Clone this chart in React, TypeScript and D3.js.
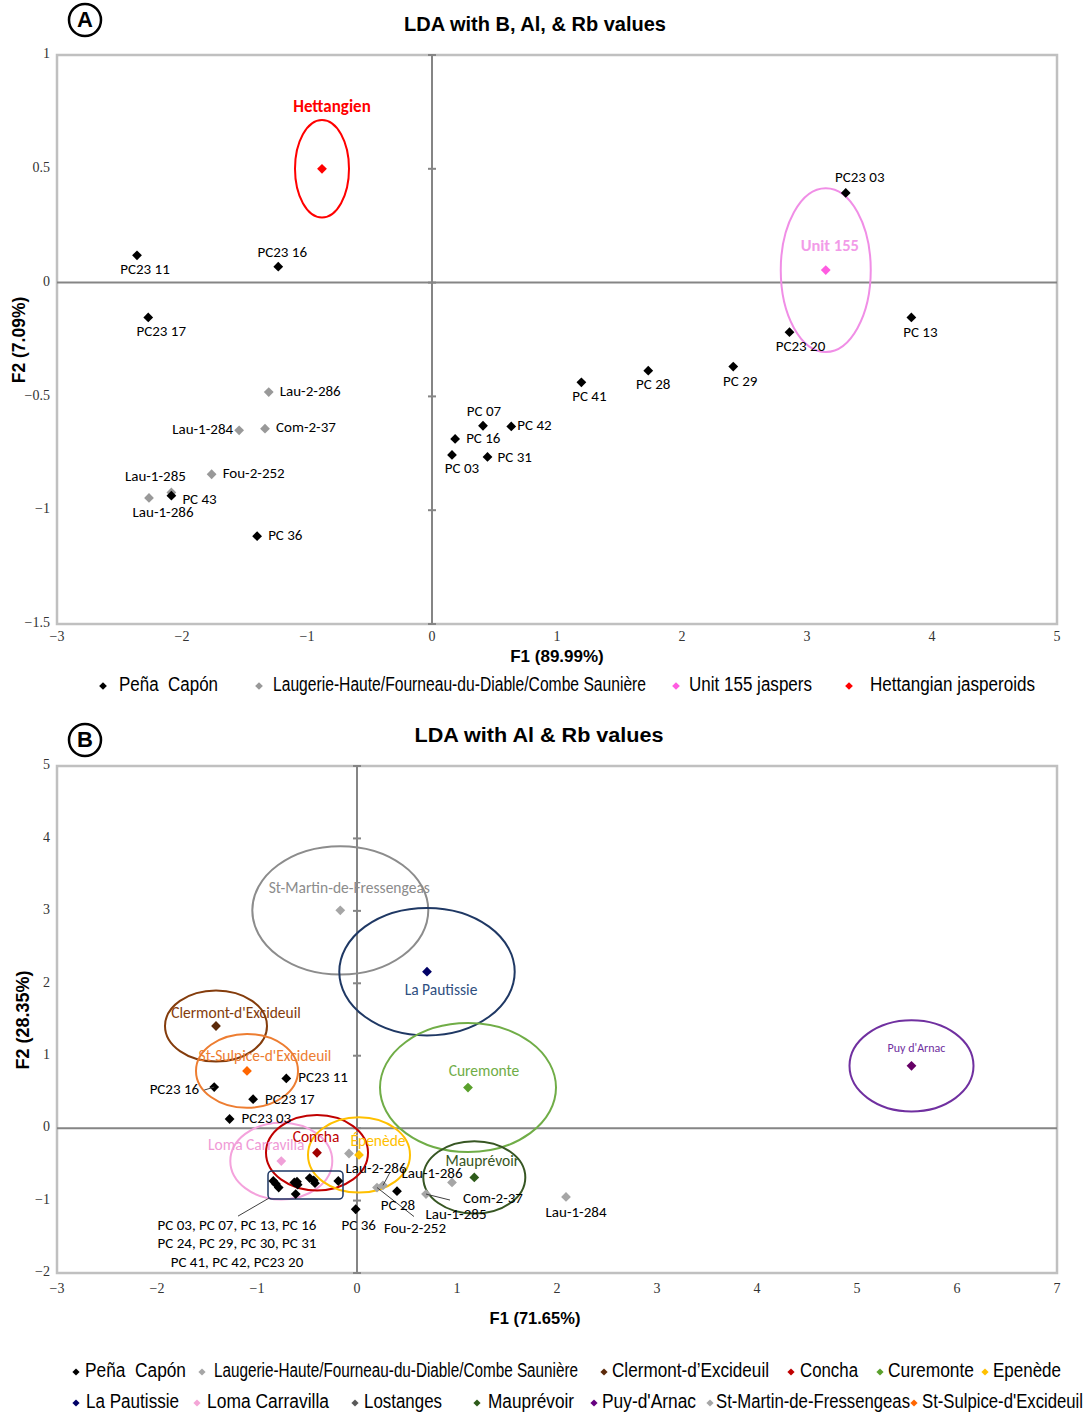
import React from 'react';
import * as d3 from 'd3';

const W = 1085;
const H = 1415;

// ---------- Panel A: LDA with B, Al & Rb ----------
const aXTicks = [-3, -2, -1, 0, 1, 2, 3, 4, 5];
const aYTicks = [-1.5, -1, -0.5, 0, 0.5, 1];

const aPenaCapon = [
  { name: 'PC23 11', x: -2.36, y: 0.12 },
  { name: 'PC23 16', x: -1.23, y: 0.07 },
  { name: 'PC23 17', x: -2.27, y: -0.153 },
  { name: 'PC23 03', x: 3.31, y: 0.394 },
  { name: 'PC23 20', x: 2.86, y: -0.218 },
  { name: 'PC 13', x: 3.835, y: -0.153 },
  { name: 'PC 41', x: 1.195, y: -0.438 },
  { name: 'PC 28', x: 1.73, y: -0.387 },
  { name: 'PC 29', x: 2.41, y: -0.369 },
  { name: 'PC 07', x: 0.408, y: -0.629 },
  { name: 'PC 42', x: 0.634, y: -0.632 },
  { name: 'PC 16', x: 0.185, y: -0.687 },
  { name: 'PC 03', x: 0.16, y: -0.757 },
  { name: 'PC 31', x: 0.444, y: -0.766 },
  { name: 'PC 43', x: -2.085, y: -0.936 },
  { name: 'PC 36', x: -1.399, y: -1.114 },
];

const aLaugerie = [
  { name: 'Lau-2-286', x: -1.306, y: -0.481 },
  { name: 'Lau-1-284', x: -1.543, y: -0.649 },
  { name: 'Com-2-37', x: -1.336, y: -0.642 },
  { name: 'Fou-2-252', x: -1.763, y: -0.842 },
  { name: 'Lau-1-285', x: -2.085, y: -0.922 },
  { name: 'Lau-1-286', x: -2.264, y: -0.946 },
];

const aUnit155 = [{ name: 'Unit 155', x: 3.15, y: 0.055, rx: 0.36, ry: 0.36 }];
const aHettangian = [{ name: 'Hettangien', x: -0.88, y: 0.5, rx: 0.216, ry: 0.214 }];

// label placement for panel A (pixel offsets from the point)
const aLabelPlace: Record<string, [number, number, string]> = {
  'PC23 11': [8, 15, 'middle'],
  'PC23 16': [4, -13, 'middle'],
  'PC23 17': [13, 15, 'middle'],
  'PC23 03': [14, -15, 'middle'],
  'PC23 20': [11, 15, 'middle'],
  'PC 13': [9, 16, 'middle'],
  'PC 41': [8, 15, 'middle'],
  'PC 28': [5, 15, 'middle'],
  'PC 29': [7, 16, 'middle'],
  'PC 07': [1, -13, 'middle'],
  'PC 42': [6, 0, 'start'],
  'PC 16': [11, 0, 'start'],
  'PC 03': [10, 15, 'middle'],
  'PC 31': [10, 1, 'start'],
  'PC 43': [11, 5, 'start'],
  'PC 36': [11, 0, 'start'],
  'Lau-2-286': [11, 0, 'start'],
  'Lau-1-284': [-6, 0, 'end'],
  'Com-2-37': [11, 0, 'start'],
  'Fou-2-252': [11, 0, 'start'],
  'Lau-1-285': [-16, -15, 'middle'],
  'Lau-1-286': [14, 16, 'middle'],
  'Unit 155': [4, -23, 'middle'],
  Hettangien: [10, -61, 'middle'],
};

const aLegend = [
  { label: 'Peña  Capón', color: '#000000' },
  { label: 'Laugerie-Haute/Fourneau-du-Diable/Combe Saunière', color: '#999999' },
  { label: 'Unit 155 jaspers', color: '#ff5ce1' },
  { label: 'Hettangian jasperoids', color: '#ff0000' },
];

// ---------- Panel B: LDA with Al & Rb ----------
const bXTicks = [-3, -2, -1, 0, 1, 2, 3, 4, 5, 6, 7];
const bYTicks = [-2, -1, 0, 1, 2, 3, 4, 5];

const bGroups = [
  { name: 'St-Martin-de-Fressengeas', x: -0.167, y: 3.007, rx: 0.88, ry: 0.886 },
  { name: 'La Pautissie', x: 0.7, y: 2.16, rx: 0.877, ry: 0.88 },
  { name: "Clermont-d'Excideuil", x: -1.41, y: 1.41, rx: 0.51, ry: 0.49 },
  { name: "St-Sulpice-d'Excideuil", x: -1.1, y: 0.79, rx: 0.51, ry: 0.51 },
  { name: 'Curemonte', x: 1.11, y: 0.56, rx: 0.88, ry: 0.89 },
  { name: "Puy d'Arnac", x: 5.545, y: 0.86, rx: 0.62, ry: 0.63 },
  { name: 'Loma Carravilla', x: -0.757, y: -0.454, rx: 0.51, ry: 0.53 },
  { name: 'Concha', x: -0.4, y: -0.34, rx: 0.51, ry: 0.52 },
  { name: 'Épenède', x: 0.02, y: -0.37, rx: 0.51, ry: 0.52 },
  { name: 'Mauprévoir', x: 1.173, y: -0.68, rx: 0.51, ry: 0.5 },
];

const bGroupStyle: Record<string, { ring: string; dot: string; text: string; dx: number; dy: number; fs: number }> = {
  'St-Martin-de-Fressengeas': { ring: '#8c8c8c', dot: '#a6a6a6', text: '#8c8c8c', dx: 9, dy: -21, fs: 15.5 },
  'La Pautissie': { ring: '#1f3864', dot: '#000066', text: '#2f4f7f', dx: 14, dy: 20, fs: 15.5 },
  "Clermont-d'Excideuil": { ring: '#843c0c', dot: '#5c2a0a', text: '#843c0c', dx: 20, dy: -12, fs: 15.5 },
  "St-Sulpice-d'Excideuil": { ring: '#ed7d31', dot: '#ff6600', text: '#ed7d31', dx: 18, dy: -14, fs: 15.5 },
  Curemonte: { ring: '#70ad47', dot: '#5aa02c', text: '#70ad47', dx: 16, dy: -15, fs: 15.5 },
  "Puy d'Arnac": { ring: '#7030a0', dot: '#660066', text: '#7030a0', dx: 5, dy: -17, fs: 12 },
  'Loma Carravilla': { ring: '#f4a2dc', dot: '#f0a0d8', text: '#f09ad6', dx: -25, dy: -15, fs: 15.5 },
  Concha: { ring: '#c00000', dot: '#a00000', text: '#c00000', dx: -1, dy: -14, fs: 15.5 },
  'Épenède': { ring: '#ffc000', dot: '#ffc000', text: '#ffc000', dx: 19, dy: -13, fs: 15.5 },
  'Mauprévoir': { ring: '#375623', dot: '#2e5b1a', text: '#375623', dx: 8, dy: -15, fs: 15.5 },
};

const bPenaLabelled = [
  { name: 'PC23 11', x: -0.707, y: 0.687 },
  { name: 'PC23 16', x: -1.428, y: 0.567 },
  { name: 'PC23 17', x: -1.039, y: 0.4 },
  { name: 'PC23 03', x: -1.274, y: 0.126 },
  { name: 'PC 28', x: 0.4, y: -0.87 },
  { name: 'PC 36', x: -0.013, y: -1.12 },
];

// PC 03, 07, 13, 16, 24, 29, 30, 31, 41, 42 and PC23 20
const bPenaCluster = [
  { x: -0.837, y: -0.73 },
  { x: -0.81, y: -0.77 },
  { x: -0.783, y: -0.82 },
  { x: -0.627, y: -0.75 },
  { x: -0.6, y: -0.74 },
  { x: -0.593, y: -0.78 },
  { x: -0.613, y: -0.91 },
  { x: -0.473, y: -0.69 },
  { x: -0.433, y: -0.72 },
  { x: -0.42, y: -0.76 },
  { x: -0.187, y: -0.73 },
];
const bClusterBox = { x0: -0.89, x1: -0.14, y0: -0.98, y1: -0.59 };
const bClusterText = [
  'PC 03, PC 07, PC 13, PC 16',
  'PC 24, PC 29, PC 30, PC 31',
  'PC 41, PC 42, PC23 20',
];

const bLaugerie = [
  { name: 'Lau-2-286', x: -0.08, y: -0.35 },
  { name: 'Fou-2-252', x: 0.2, y: -0.82 },
  { name: 'Lau-1-286', x: 0.26, y: -0.79 },
  { name: 'Com-2-37', x: 0.69, y: -0.91 },
  { name: 'Lau-1-285', x: 0.95, y: -0.75 },
  { name: 'Lau-1-284', x: 2.09, y: -0.95 },
];

// label placement for panel B: [dx, dy, anchor, leaderDx?, leaderDy?]
const bLabelPlace: Record<string, [number, number, string, number?, number?]> = {
  'PC23 11': [12, 0, 'start'],
  'PC23 16': [-15, 3, 'end', -10, 3],
  'PC23 17': [12, 1, 'start'],
  'PC23 03': [12, 0, 'start'],
  'PC 28': [1, 15, 'middle'],
  'PC 36': [3, 17, 'middle'],
  'Lau-2-286': [27, 16, 'middle'],
  'Fou-2-252': [38, 42, 'middle', 37, 29],
  'Lau-1-286': [49, -11, 'middle', 7, -13],
  'Com-2-37': [67, 5, 'middle', 24, 6],
  'Lau-1-285': [4, 33, 'middle'],
  'Lau-1-284': [10, 16, 'middle'],
};

const bLegendRow1 = [
  { label: 'Peña  Capón', color: '#000000' },
  { label: 'Laugerie-Haute/Fourneau-du-Diable/Combe Saunière', color: '#a6a6a6' },
  { label: 'Clermont-d’Excideuil', color: '#5c2a0a' },
  { label: 'Concha', color: '#c00000' },
  { label: 'Curemonte', color: '#5aa02c' },
  { label: 'Epenède', color: '#ffc000' },
];
const bLegendRow2 = [
  { label: 'La Pautissie', color: '#000066' },
  { label: 'Loma Carravilla', color: '#f4a6d7' },
  { label: 'Lostanges', color: '#595959' },
  { label: 'Mauprévoir', color: '#2e5b1a' },
  { label: "Puy-d'Arnac", color: '#660080' },
  { label: 'St-Martin-de-Fressengeas', color: '#a6a6a6' },
  { label: "St-Sulpice-d'Excideuil", color: '#ff6600' },
];

// ---------- drawing helpers ----------
const LABEL_FONT = "Carlito, Lato, 'Open Sans', sans-serif";
const TICK_FONT = "'Liberation Serif', 'Times New Roman', serif";
const LEGEND_FONT = "'Liberation Sans', Arial, sans-serif";
const BOLD_FONT = "'Liberation Sans', Arial, sans-serif";

const diamond = (size: number) => d3.symbol(d3.symbolSquare, size)() as string;
const fmt = (v: number) => d3.format('')(v);

function Diamond({ x, y, color, size = 48 }: { x: number; y: number; color: string; size?: number }) {
  return <path d={diamond(size)} transform={`translate(${x},${y}) rotate(45)`} fill={color} />;
}

// condensed legend text, squeezed to a given run length
function NarrowText({ x, y, width, children, fs }: any) {
  return (
    <text
      x={x}
      y={y}
      dominantBaseline="middle"
      fontFamily={LEGEND_FONT}
      fontSize={fs}
      textLength={width}
      lengthAdjust="spacingAndGlyphs"
      style={{ whiteSpace: 'pre' }}
      fill="#000"
    >
      {children}
    </text>
  );
}

function Frame({ xs, ys, xTicks, yTicks, xLabelY, tickFs }: any) {
  const [x0, x1] = xs.range();
  const [y0, y1] = ys.range();
  const zx = xs(0);
  const zy = ys(0);
  return (
    <g>
      <rect x={x0} y={y1} width={x1 - x0} height={y0 - y1} fill="#fff" stroke="#c0c0c0" strokeWidth={2.5} />
      <line x1={x0} x2={x1} y1={zy} y2={zy} stroke="#858585" strokeWidth={2} />
      <line x1={zx} x2={zx} y1={y1} y2={y0} stroke="#858585" strokeWidth={2} />
      {yTicks.map((t: number) => (
        <line key={'m' + t} x1={zx - 4} x2={zx + 4} y1={ys(t)} y2={ys(t)} stroke="#858585" strokeWidth={2} />
      ))}
      {yTicks.map((t: number) => (
        <text key={'y' + t} x={x0 - 7} y={ys(t)} textAnchor="end" dominantBaseline="middle" fontFamily={TICK_FONT} fontSize={tickFs} fill="#333">
          {fmt(t)}
        </text>
      ))}
      {xTicks.map((t: number) => (
        <text key={'x' + t} x={xs(t)} y={xLabelY} textAnchor="middle" dominantBaseline="middle" fontFamily={TICK_FONT} fontSize={tickFs} fill="#333">
          {fmt(t)}
        </text>
      ))}
    </g>
  );
}

function CircledLetter({ x, y, letter }: { x: number; y: number; letter: string }) {
  return (
    <g>
      <circle cx={x} cy={y} r={16} fill="none" stroke="#000" strokeWidth={2.5} />
      <text x={x} y={y + 1} textAnchor="middle" dominantBaseline="middle" fontFamily={BOLD_FONT} fontWeight="bold" fontSize={22}>
        {letter}
      </text>
    </g>
  );
}

function PanelA() {
  const xs = d3.scaleLinear().domain([-3, 5]).range([57, 1057]);
  const ys = d3.scaleLinear().domain([-1.5, 1]).range([624, 55]);
  const label = (name: string, px: number, py: number, color = '#000', extra: any = {}) => {
    const [dx, dy, anchor] = aLabelPlace[name];
    return (
      <text key={'l' + name} x={px + dx} y={py + dy} textAnchor={anchor as any} dominantBaseline="middle" fontFamily={LABEL_FONT} fontSize={15} fill={color} {...extra}>
        {name}
      </text>
    );
  };
  const legendX = [103, 259, 676, 849];
  const legendTextX = [119, 273, 689, 870];
  const legendW = [99, 373, 123, 165];
  return (
    <g>
      <CircledLetter x={85} y={20} letter="A" />
      <text x={535} y={26} textAnchor="middle" dominantBaseline="middle" fontFamily={BOLD_FONT} fontWeight="bold" fontSize={20}>
        LDA with B, Al, &amp; Rb values
      </text>
      <Frame xs={xs} ys={ys} xTicks={aXTicks} yTicks={aYTicks} xLabelY={638} tickFs={14} />
      {aHettangian.map((g) => (
        <g key={g.name}>
          <ellipse cx={xs(g.x)} cy={ys(g.y)} rx={xs(g.x + g.rx) - xs(g.x)} ry={ys(g.y) - ys(g.y + g.ry)} fill="none" stroke="#ff0000" strokeWidth={2} />
          <Diamond x={xs(g.x)} y={ys(g.y)} color="#ff0000" />
          {label(g.name, xs(g.x), ys(g.y), '#ff0000', { fontWeight: 'bold', fontSize: 17 })}
        </g>
      ))}
      {aUnit155.map((g) => (
        <g key={g.name}>
          <ellipse cx={xs(g.x)} cy={ys(g.y)} rx={xs(g.x + g.rx) - xs(g.x)} ry={ys(g.y) - ys(g.y + g.ry)} fill="none" stroke="#f08ee6" strokeWidth={2} />
          <Diamond x={xs(g.x)} y={ys(g.y)} color="#ff5ce1" />
          {label(g.name, xs(g.x), ys(g.y), '#f29be8', { fontWeight: 'bold', fontSize: 16.5 })}
        </g>
      ))}
      {aLaugerie.map((p) => (
        <g key={p.name}>
          <Diamond x={xs(p.x)} y={ys(p.y)} color="#999999" />
          {label(p.name, xs(p.x), ys(p.y))}
        </g>
      ))}
      {aPenaCapon.map((p) => (
        <g key={p.name}>
          <Diamond x={xs(p.x)} y={ys(p.y)} color="#000" />
          {label(p.name, xs(p.x), ys(p.y))}
        </g>
      ))}
      <text transform={`translate(20,340) rotate(-90)`} textAnchor="middle" dominantBaseline="middle" fontFamily={BOLD_FONT} fontWeight="bold" fontSize={17.5}>
        F2 (7.09%)
      </text>
      <text x={557} y={658} textAnchor="middle" dominantBaseline="middle" fontFamily={BOLD_FONT} fontWeight="bold" fontSize={17}>
        F1 (89.99%)
      </text>
      {aLegend.map((l, i) => (
        <g key={l.label}>
          <Diamond x={legendX[i]} y={686} color={l.color} size={30} />
          <NarrowText x={legendTextX[i]} y={686} width={legendW[i]} fs={20}>
            {l.label}
          </NarrowText>
        </g>
      ))}
    </g>
  );
}

function PanelB() {
  const xs = d3.scaleLinear().domain([-3, 7]).range([57, 1057]);
  const ys = d3.scaleLinear().domain([-2, 5]).range([1273, 766]);
  const label = (name: string, px: number, py: number) => {
    const [dx, dy, anchor, lx, ly] = bLabelPlace[name];
    return (
      <g key={'l' + name}>
        {lx !== undefined && (
          <line x1={px} y1={py} x2={px + lx} y2={py + (ly as number)} stroke="#404040" strokeWidth={1} />
        )}
        <text x={px + dx} y={py + dy} textAnchor={anchor as any} dominantBaseline="middle" fontFamily={LABEL_FONT} fontSize={15} fill="#000">
          {name}
        </text>
      </g>
    );
  };
  const bx0 = xs(bClusterBox.x0);
  const bx1 = xs(bClusterBox.x1);
  const by0 = ys(bClusterBox.y1);
  const by1 = ys(bClusterBox.y0);
  const row1X = [76, 202, 604, 791, 880, 985];
  const row1TX = [85, 214, 612, 800, 888, 993];
  const row1W = [101, 364, 157, 58, 86, 68];
  const row2X = [76, 197, 355, 477, 594, 710, 914];
  const row2TX = [86, 207, 364, 488, 602, 716, 922];
  const row2W = [93, 122, 78, 86, 94, 194, 161];
  return (
    <g>
      <CircledLetter x={85} y={740} letter="B" />
      <text x={539} y={737} textAnchor="middle" dominantBaseline="middle" fontFamily={BOLD_FONT} fontWeight="bold" fontSize={20} textLength={249} lengthAdjust="spacingAndGlyphs">
        LDA with Al &amp; Rb values
      </text>
      <Frame xs={xs} ys={ys} xTicks={bXTicks} yTicks={bYTicks} xLabelY={1290} tickFs={14} />
      {bGroups.map((g) => {
        const s = bGroupStyle[g.name];
        return (
          <ellipse key={'e' + g.name} cx={xs(g.x)} cy={ys(g.y)} rx={xs(g.x + g.rx) - xs(g.x)} ry={ys(g.y) - ys(g.y + g.ry)} fill="none" stroke={s.ring} strokeWidth={2} />
        );
      })}
      {bGroups.map((g) => {
        const s = bGroupStyle[g.name];
        return (
          <g key={'g' + g.name}>
            <Diamond x={xs(g.x)} y={ys(g.y)} color={s.dot} />
            <text x={xs(g.x) + s.dx} y={ys(g.y) + s.dy} textAnchor="middle" dominantBaseline="middle" fontFamily={LABEL_FONT} fontSize={s.fs} fill={s.text}>
              {g.name}
            </text>
          </g>
        );
      })}
      <rect x={bx0} y={by0} width={bx1 - bx0} height={by1 - by0} rx={4} fill="none" stroke="#1f3864" strokeWidth={1.5} />
      <line x1={bx0 + 1} y1={by1 - 1} x2={bx0 - 30} y2={by1 + 17} stroke="#404040" strokeWidth={1} />
      {bClusterText.map((t, i) => (
        <text key={t} x={bx0 - 31} y={by1 + 27 + i * 18.5} textAnchor="middle" dominantBaseline="middle" fontFamily={LABEL_FONT} fontSize={15}>
          {t}
        </text>
      ))}
      {bLaugerie.map((p) => (
        <Diamond key={p.name} x={xs(p.x)} y={ys(p.y)} color="#a6a6a6" />
      ))}
      {bPenaCluster.map((p, i) => (
        <Diamond key={'c' + i} x={xs(p.x)} y={ys(p.y)} color="#000" />
      ))}
      {bPenaLabelled.map((p) => (
        <Diamond key={p.name} x={xs(p.x)} y={ys(p.y)} color="#000" />
      ))}
      {bLaugerie.map((p) => label(p.name, xs(p.x), ys(p.y)))}
      {bPenaLabelled.map((p) => label(p.name, xs(p.x), ys(p.y)))}
      <text transform={`translate(24,1020) rotate(-90)`} textAnchor="middle" dominantBaseline="middle" fontFamily={BOLD_FONT} fontWeight="bold" fontSize={18}>
        F2 (28.35%)
      </text>
      <text x={535} y={1320} textAnchor="middle" dominantBaseline="middle" fontFamily={BOLD_FONT} fontWeight="bold" fontSize={16.5}>
        F1 (71.65%)
      </text>
      {bLegendRow1.map((l, i) => (
        <g key={'r1' + l.label}>
          <Diamond x={row1X[i]} y={1372} color={l.color} size={26} />
          <NarrowText x={row1TX[i]} y={1372} width={row1W[i]} fs={19.5}>
            {l.label}
          </NarrowText>
        </g>
      ))}
      {bLegendRow2.map((l, i) => (
        <g key={'r2' + l.label}>
          <Diamond x={row2X[i]} y={1403} color={l.color} size={26} />
          <NarrowText x={row2TX[i]} y={1403} width={row2W[i]} fs={19.5}>
            {l.label}
          </NarrowText>
        </g>
      ))}
    </g>
  );
}

export default function App() {
  return (
    <svg width={W} height={H} viewBox={`0 0 ${W} ${H}`} style={{ position: 'absolute', left: 0, top: 0, background: '#fff' }}>
      <rect width={W} height={H} fill="#fff" />
      <PanelA />
      <PanelB />
    </svg>
  );
}
